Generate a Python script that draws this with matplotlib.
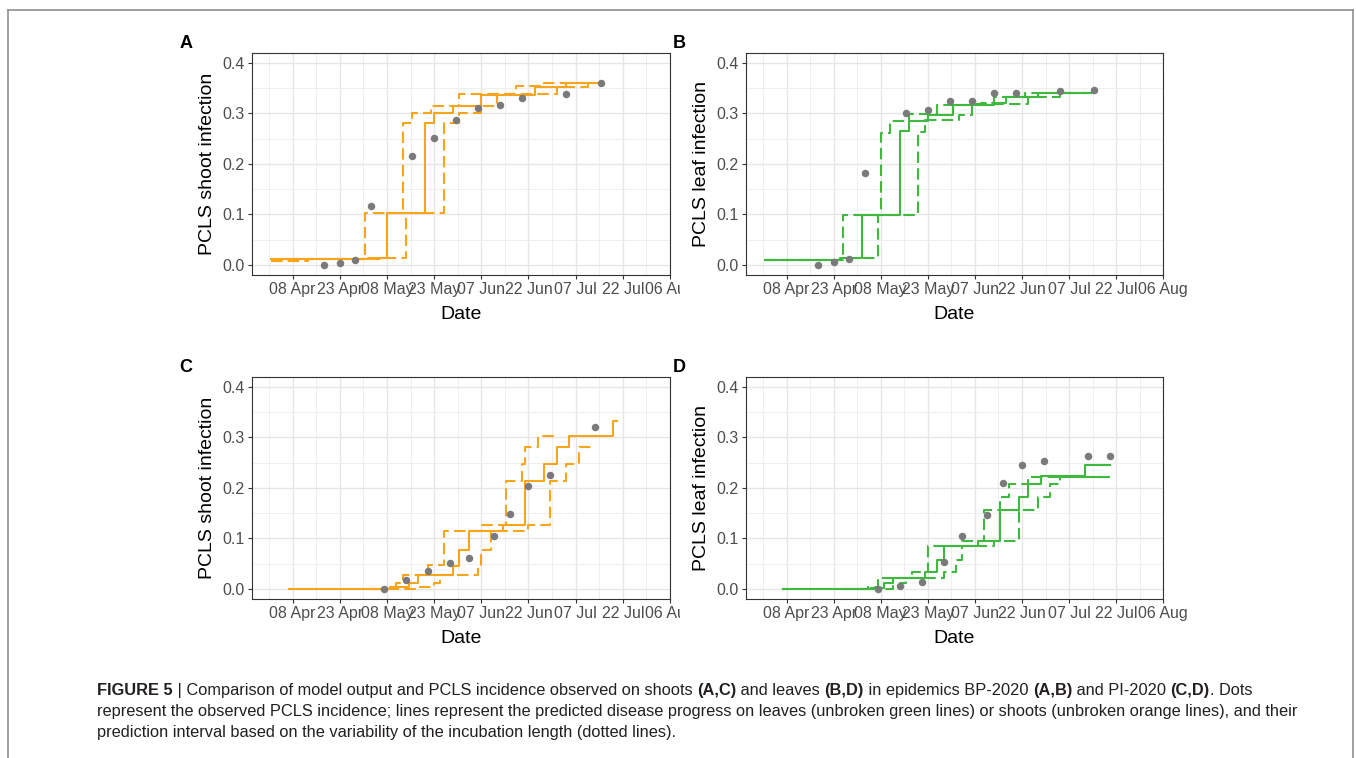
import datetime as dt

import matplotlib
matplotlib.use('Agg')
import matplotlib.pyplot as plt
from matplotlib.lines import Line2D
from matplotlib.transforms import Bbox

# ===== DATA =====
tick_dates = ['2020-04-08', '2020-04-23', '2020-05-08', '2020-05-23', '2020-06-07',
              '2020-06-22', '2020-07-07', '2020-07-22', '2020-08-06']
tick_labels = ['08 Apr', '23 Apr', '08 May', '23 May', '07 Jun', '22 Jun', '07 Jul', '22 Jul', '06 Aug']
y_ticks = [0.0, 0.1, 0.2, 0.3, 0.4]

# BP-2020, shoots (A)
a_obs_dates = ['2020-04-18', '2020-04-23', '2020-04-28', '2020-05-03', '2020-05-16', '2020-05-23',
               '2020-05-30', '2020-06-06', '2020-06-13', '2020-06-20', '2020-07-04', '2020-07-15']
a_obs_vals = [0.0, 0.004, 0.010, 0.117, 0.216, 0.252, 0.287, 0.311, 0.317, 0.330, 0.339, 0.360]
a_mid_dates = ['2020-04-01', '2020-05-02', '2020-05-08', '2020-05-20', '2020-05-23', '2020-05-29',
               '2020-06-07', '2020-06-24', '2020-07-04', '2020-07-15']
a_mid_vals = [0.011, 0.013, 0.102, 0.280, 0.300, 0.315, 0.337, 0.353, 0.361, 0.361]
a_low_dates = ['2020-04-01', '2020-04-06', '2020-05-01', '2020-05-13', '2020-05-16', '2020-05-22',
               '2020-05-31', '2020-06-18', '2020-06-27', '2020-07-12']
a_low_vals = [0.007, 0.011, 0.103, 0.280, 0.300, 0.315, 0.338, 0.354, 0.360, 0.360]
a_high_dates = ['2020-04-01', '2020-04-13', '2020-05-06', '2020-05-14', '2020-05-26', '2020-05-31',
                '2020-06-07', '2020-06-12', '2020-07-01', '2020-07-11', '2020-07-13']
a_high_vals = [0.007, 0.011, 0.013, 0.102, 0.280, 0.300, 0.314, 0.338, 0.352, 0.360, 0.360]

# BP-2020, leaves (B)
b_obs_dates = a_obs_dates
b_obs_vals = [0.0, 0.006, 0.012, 0.182, 0.300, 0.307, 0.325, 0.325, 0.341, 0.341, 0.345, 0.347]
b_mid_dates = ['2020-04-01', '2020-04-25', '2020-05-02', '2020-05-14', '2020-05-17', '2020-05-23',
               '2020-05-31', '2020-06-13', '2020-06-17', '2020-06-27', '2020-07-15']
b_mid_vals = [0.010, 0.013, 0.098, 0.265, 0.285, 0.296, 0.317, 0.320, 0.333, 0.340, 0.340]
b_low_dates = ['2020-04-01', '2020-04-26', '2020-05-08', '2020-05-11', '2020-05-17', '2020-05-26',
               '2020-06-09', '2020-06-13', '2020-06-23', '2020-07-13']
b_low_vals = [0.010, 0.098, 0.262, 0.284, 0.298, 0.317, 0.320, 0.333, 0.340, 0.340]
b_high_dates = ['2020-04-01', '2020-04-28', '2020-05-07', '2020-05-20', '2020-05-22', '2020-06-02',
                '2020-06-06', '2020-06-24', '2020-07-04', '2020-07-13']
b_high_vals = [0.010, 0.013, 0.098, 0.264, 0.286, 0.296, 0.319, 0.333, 0.340, 0.340]

# PI-2020, shoots (C)
c_obs_dates = ['2020-05-07', '2020-05-14', '2020-05-21', '2020-05-28', '2020-06-03', '2020-06-11',
               '2020-06-16', '2020-06-22', '2020-06-29', '2020-07-13']
c_obs_vals = [0.0, 0.017, 0.035, 0.052, 0.062, 0.105, 0.148, 0.204, 0.226, 0.320]
c_mid_dates = ['2020-04-07', '2020-05-09', '2020-05-15', '2020-05-18', '2020-05-29', '2020-05-31',
               '2020-06-03', '2020-06-14', '2020-06-21', '2020-06-27', '2020-07-01', '2020-07-05',
               '2020-07-19', '2020-07-20']
c_mid_vals = [0.0, 0.003, 0.012, 0.027, 0.045, 0.076, 0.114, 0.127, 0.214, 0.247, 0.280, 0.302,
              0.333, 0.333]
c_low_dates = ['2020-04-30', '2020-05-11', '2020-05-13', '2020-05-21', '2020-05-26', '2020-06-07',
               '2020-06-15', '2020-06-20', '2020-06-21', '2020-06-25', '2020-07-01']
c_low_vals = [0.0, 0.012, 0.027, 0.047, 0.114, 0.127, 0.214, 0.247, 0.280, 0.302, 0.302]
c_high_dates = ['2020-05-03', '2020-05-18', '2020-05-23', '2020-05-25', '2020-06-06', '2020-06-07',
                '2020-06-10', '2020-06-22', '2020-06-29', '2020-07-04', '2020-07-08', '2020-07-12']
c_high_vals = [0.0, 0.003, 0.012, 0.027, 0.045, 0.076, 0.114, 0.127, 0.214, 0.247, 0.280, 0.280]

# PI-2020, leaves (D)
d_obs_dates = ['2020-05-07', '2020-05-14', '2020-05-21', '2020-05-28', '2020-06-03', '2020-06-11',
               '2020-06-16', '2020-06-22', '2020-06-29', '2020-07-13', '2020-07-20']
d_obs_vals = [0.0, 0.005, 0.014, 0.054, 0.105, 0.146, 0.209, 0.245, 0.254, 0.264, 0.264]
d_mid_dates = ['2020-04-07', '2020-05-05', '2020-05-09', '2020-05-12', '2020-05-22', '2020-05-26',
               '2020-05-28', '2020-06-08', '2020-06-15', '2020-06-21', '2020-06-24', '2020-06-28',
               '2020-07-12', '2020-07-20']
d_mid_vals = [0.0, 0.002, 0.011, 0.021, 0.034, 0.058, 0.084, 0.095, 0.156, 0.182, 0.207, 0.223,
              0.245, 0.245]
d_low_dates = ['2020-04-26', '2020-05-04', '2020-05-07', '2020-05-18', '2020-05-23', '2020-06-03',
               '2020-06-10', '2020-06-15', '2020-06-18', '2020-06-24', '2020-07-20']
d_low_vals = [0.0, 0.003, 0.021, 0.034, 0.084, 0.095, 0.157, 0.181, 0.207, 0.222, 0.222]
d_high_dates = ['2020-04-29', '2020-05-12', '2020-05-14', '2020-05-16', '2020-05-28', '2020-06-01',
                '2020-06-03', '2020-06-13', '2020-06-21', '2020-06-27', '2020-07-01', '2020-07-04',
                '2020-07-20']
d_high_vals = [0.0, 0.006, 0.011, 0.021, 0.034, 0.058, 0.084, 0.095, 0.157, 0.181, 0.207, 0.222,
               0.222]

caption_lines = [
    [('FIGURE 5', True), (' | Comparison of model output and PCLS incidence observed on shoots ', False),
     ('(A,C)', True), (' and leaves ', False), ('(B,D)', True), (' in epidemics BP-2020 ', False),
     ('(A,B)', True), (' and PI-2020 ', False), ('(C,D)', True), ('. Dots', False)],
    [('represent the observed PCLS incidence; lines represent the predicted disease progress on leaves '
      '(unbroken green lines) or shoots (unbroken orange lines), and their', False)],
    [('prediction interval based on the variability of the incubation length (dotted lines).', False)],
]
# ===== DATA =====

W, H = 1356, 758
ORANGE = '#F8A51C'
GREEN = '#3FB83F'
POINT = '#7a7a7a'

plt.rcParams['font.family'] = ['Liberation Sans', 'DejaVu Sans']


def to_dt(lst):
    return [dt.datetime.strptime(s, '%Y-%m-%d') for s in lst]


def px_axes(left, top, right, bottom):
    return [left / W, 1 - bottom / H, (right - left) / W, (bottom - top) / H]


fig = plt.figure(figsize=(W / 100, H / 100), dpi=100)

panels = [
    ('A', px_axes(251.7, 52.7, 670, 275), 'PCLS shoot infection', ORANGE,
     a_obs_dates, a_obs_vals, a_mid_dates, a_mid_vals, a_low_dates, a_low_vals, a_high_dates, a_high_vals, True),
    ('B', px_axes(745.7, 52.7, 1163.3, 275), 'PCLS leaf infection', GREEN,
     b_obs_dates, b_obs_vals, b_mid_dates, b_mid_vals, b_low_dates, b_low_vals, b_high_dates, b_high_vals, False),
    ('C', px_axes(251.7, 376.7, 670, 599), 'PCLS shoot infection', ORANGE,
     c_obs_dates, c_obs_vals, c_mid_dates, c_mid_vals, c_low_dates, c_low_vals, c_high_dates, c_high_vals, True),
    ('D', px_axes(745.7, 376.7, 1163.3, 599), 'PCLS leaf infection', GREEN,
     d_obs_dates, d_obs_vals, d_mid_dates, d_mid_vals, d_low_dates, d_low_vals, d_high_dates, d_high_vals, False),
]

ticks = to_dt(tick_dates)
minor_ticks = [t - dt.timedelta(days=7.5) for t in ticks]
x_lo = ticks[0] - dt.timedelta(days=13)
x_hi = ticks[-1]

for (letter, rect, ylabel, col, od, ov, md, mv, ld, lv, hd, hv, clip_right) in panels:
    ax = fig.add_axes(rect)
    ax.plot(to_dt(ld), lv, drawstyle='steps-post', color=col, lw=1.5, dashes=(5.5, 2.5), zorder=3)
    ax.plot(to_dt(hd), hv, drawstyle='steps-post', color=col, lw=1.5, dashes=(5.5, 2.5), zorder=3)
    ax.plot(to_dt(md), mv, drawstyle='steps-post', color=col, lw=1.5, zorder=4)
    ax.plot(to_dt(od), ov, 'o', color=POINT, ms=5.4, mec='none', zorder=5)

    ax.set_xlim(x_lo, x_hi)
    ax.set_ylim(-0.02, 0.42)
    ax.set_xticks(ticks)
    ax.set_xticklabels(tick_labels)
    ax.set_xticks(minor_ticks, minor=True)
    ax.set_yticks(y_ticks)
    ax.set_yticklabels(['%.1f' % v for v in y_ticks])
    ax.set_yticks([0.05, 0.15, 0.25, 0.35], minor=True)
    ax.grid(True, which='major', color='#e6e6e6', lw=1.0)
    ax.grid(True, which='minor', color='#ececec', lw=0.6)
    ax.set_axisbelow(True)
    ax.tick_params(which='major', length=3, width=0.8, color='#333333', labelsize=11.5,
                   labelcolor='#4d4d4d', pad=2)
    ax.tick_params(which='minor', length=0)
    for s in ax.spines.values():
        s.set_color('#333333')
        s.set_linewidth(0.8)

    ax.set_xlabel('Date', fontsize=14, va='center')
    ax.xaxis.set_label_coords(0.5, -0.176)
    ax.set_ylabel(ylabel, fontsize=14, va='center')
    ax.yaxis.set_label_coords(-0.105, 0.5)

    # ggplot panels are images side by side, the right edge of the left ones is cut
    if clip_right:
        for t in ax.xaxis.get_major_ticks():
            t.label1.set_clip_box(Bbox([[0, 0], [680, H]]))
            t.label1.set_clip_on(True)

    lx = rect[0] * W - 66
    ly = (1 - rect[1] - rect[3]) * H - 9
    fig.text(lx / W, 1 - ly / H, letter, fontsize=13, fontweight='bold', ha='center', va='center')

# frame around the figure
frame = dict(color='#8f8f8f', lw=1.2, transform=fig.transFigure)
fig.add_artist(Line2D([8 / W, 8 / W], [0, 1 - 10 / H], **frame))
fig.add_artist(Line2D([8 / W, 1353 / W], [1 - 10 / H, 1 - 10 / H], **frame))
fig.add_artist(Line2D([1353 / W, 1353 / W], [0, 1 - 10 / H], **frame))

# caption, bold and normal pieces side by side
renderer = fig.canvas.get_renderer()


def text_width(s, size, bold):
    t = fig.text(0, 0, '|' + s + '|', fontsize=size, fontweight='bold' if bold else 'normal')
    t2 = fig.text(0, 0, '||', fontsize=size, fontweight='bold' if bold else 'normal')
    w = t.get_window_extent(renderer).width - t2.get_window_extent(renderer).width
    t.remove()
    t2.remove()
    return w


cap_size = 10 * 1201 / text_width(caption_lines[1][0][0], 10, False)
baselines = [695, 716, 737]
for parts, yb in zip(caption_lines, baselines):
    x = 97
    for s, bold in parts:
        fig.text(x / W, 1 - yb / H, s, fontsize=cap_size, fontweight='bold' if bold else 'normal',
                 ha='left', va='baseline', color='#231f20')
        x += text_width(s, cap_size, bold)

fig.savefig('out.png', dpi=100)
